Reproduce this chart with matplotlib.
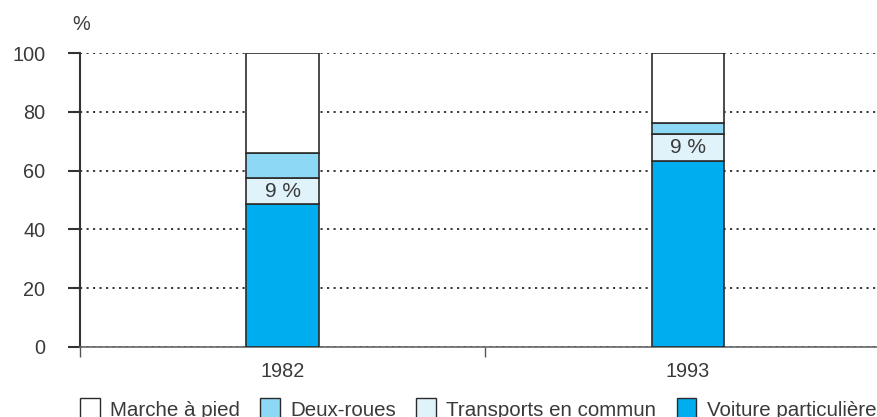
import numpy as np
import matplotlib
matplotlib.use("Agg")
import matplotlib.pyplot as plt
from matplotlib.patches import Patch

plt.rcParams['font.family'] = ['Liberation Sans', 'DejaVu Sans']

# data (shares of trips, %)
years = ['1982', '1993']
voiture = [48.5, 63.3]
transports = [9.0, 9.0]
deux_roues = [8.5, 4.0]
marche = [34.0, 23.7]
tc_labels = ['9 %', '9 %']

c_voiture = '#00aeef'
c_tc = '#e0f3fb'
c_deux = '#8dd8f5'
c_marche = '#ffffff'
edge = '#2b2b2b'
txt = '#3a3a3a'

fig = plt.figure(figsize=(8.78, 4.17), dpi=100)
ax = fig.add_axes([80/878, 1-347/417, 1-80/878, 294/417])

x = np.arange(len(years))
w = 0.178
b1 = np.array(voiture)
b2 = b1 + np.array(transports)
b3 = b2 + np.array(deux_roues)

ax.bar(x, voiture, w, color=c_voiture, edgecolor=edge, linewidth=1.2, zorder=3)
ax.bar(x, transports, w, bottom=b1, color=c_tc, edgecolor=edge, linewidth=1.2, zorder=3)
ax.bar(x, deux_roues, w, bottom=b2, color=c_deux, edgecolor=edge, linewidth=1.2, zorder=3)
ax.bar(x, marche, w, bottom=b3, color=c_marche, edgecolor=edge, linewidth=1.2, zorder=3)

for i in range(len(years)):
    ax.text(x[i], b1[i] + transports[i]/2, tc_labels[i], ha='center', va='center',
            fontsize=15, color=txt, zorder=4)

ax.set_xlim(-0.5, 1.47)
ax.set_ylim(0, 100)

ax.set_yticks([0, 20, 40, 60, 80, 100])
ax.set_yticklabels(['0', '20', '40', '60', '80', '100'])
ax.yaxis.grid(True, linestyle=(0, (1.2, 2.4)), color='#2b2b2b', linewidth=1.3, zorder=1)

ax.set_xticks([-0.5, 0.5])
ax.set_xticklabels(['', ''])
ax.set_xticks(x, minor=True)
ax.set_xticklabels(years, minor=True)
ax.tick_params(axis='x', which='major', length=7, width=1.0, color='#555555', direction='out')
ax.tick_params(axis='x', which='minor', length=0, pad=11, labelsize=14.3, labelcolor=txt)
ax.tick_params(axis='y', length=8.6, width=1.5, color='#333333', pad=16.5, labelsize=14.3,
               labelcolor=txt)

for s in ['top', 'right']:
    ax.spines[s].set_visible(False)
ax.spines['left'].set_color('#333333')
ax.spines['left'].set_linewidth(1.5)
ax.spines['bottom'].set_color('#666666')
ax.spines['bottom'].set_linewidth(1.2)

fig.text(72/878, 1-25/417, '%', fontsize=14.3, color=txt, va='center')

handles = [Patch(facecolor=c_marche, edgecolor=edge, label='Marche à pied'),
           Patch(facecolor=c_deux, edgecolor=edge, label='Deux-roues'),
           Patch(facecolor=c_tc, edgecolor=edge, label='Transports en commun'),
           Patch(facecolor=c_voiture, edgecolor=edge, label='Voiture particulière')]
leg = fig.legend(handles=handles, loc='upper left', bbox_to_anchor=(80/878, 1-398/417),
                 ncol=4, frameon=False, handlelength=0.95, handleheight=1.3,
                 handletextpad=0.5, columnspacing=1.0, borderaxespad=0, borderpad=0,
                 prop={'size': 14.8})
for t in leg.get_texts():
    t.set_color(txt)

fig.savefig('out.png', dpi=100)
